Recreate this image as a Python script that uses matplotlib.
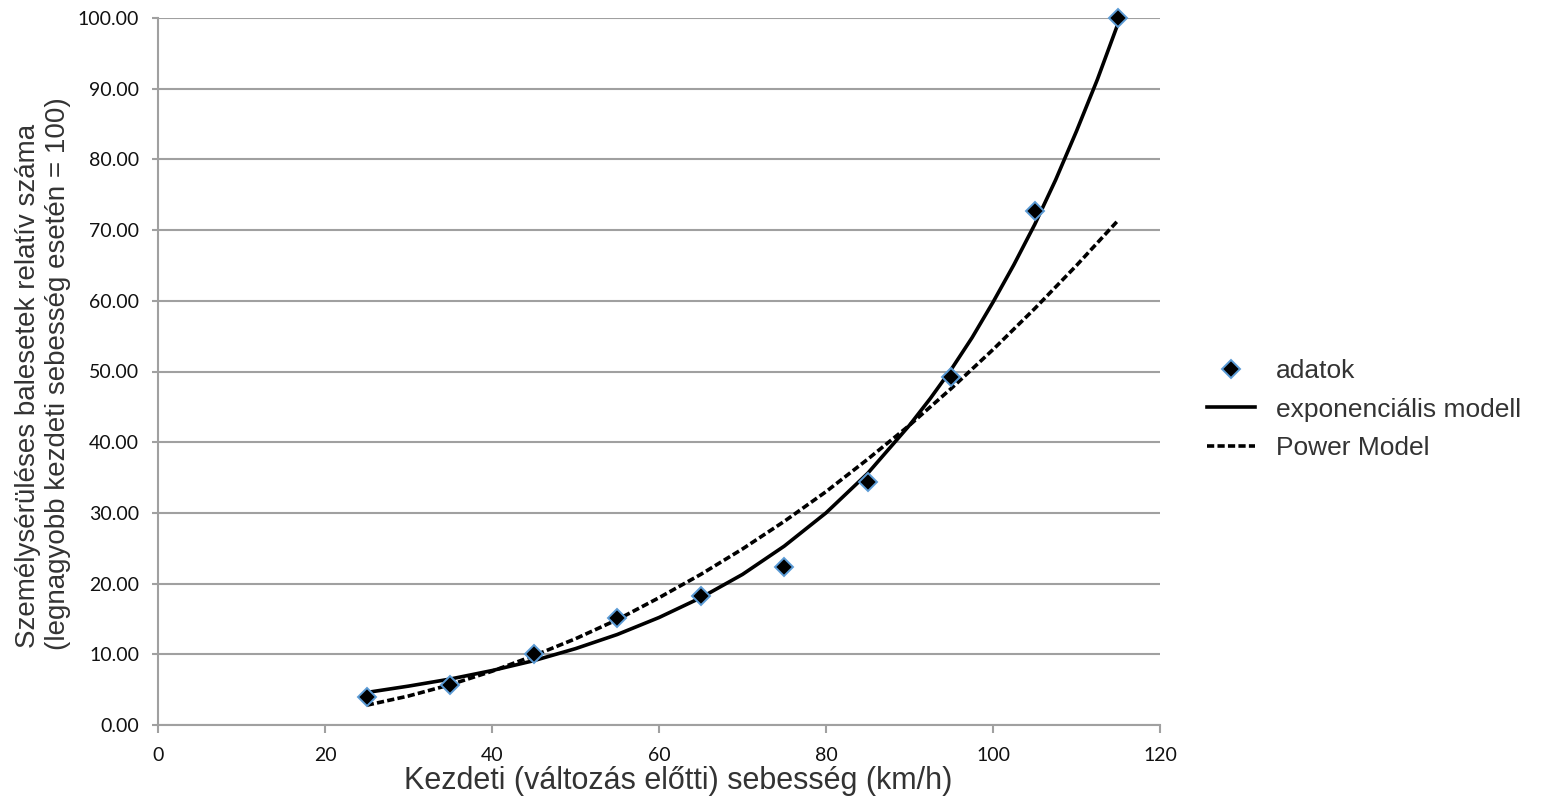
import matplotlib
matplotlib.use("Agg")
import matplotlib.pyplot as plt
from matplotlib.lines import Line2D

# ---- data ----
speed = [25, 35, 45, 55, 65, 75, 85, 95, 105, 115]
crashes = [4.0, 5.7, 10.0, 15.1, 18.2, 22.3, 34.3, 49.2, 72.7, 100.0]

exp_x = [25, 30, 35, 40, 45, 50, 55, 60, 65, 70, 75, 80, 85, 90, 92.5, 95, 97.5,
         100, 102.5, 105, 107.5, 110, 112.5, 115]
exp_model = [4.6, 5.5, 6.5, 7.7, 9.1, 10.8, 12.8, 15.2, 18.0, 21.3, 25.3, 30.0, 35.6,
             42.4, 46.2, 50.3, 54.8, 59.8, 65.1, 70.8, 77.1, 84.0, 91.3, 99.3]
power_x = [25, 30, 35, 40, 45, 50, 55, 60, 65, 70, 75, 80, 85, 90, 95, 100, 105, 110, 115]
power_model = [2.8, 4.1, 5.7, 7.6, 9.8, 12.2, 14.9, 18.0, 21.3, 24.9, 28.8, 33.0, 37.6,
               42.4, 47.6, 53.1, 58.9, 65.0, 71.4]

x_ticks = [0, 20, 40, 60, 80, 100, 120]
y_ticks = [0, 10, 20, 30, 40, 50, 60, 70, 80, 90, 100]

legend_labels = ["adatok", "exponenciális modell", "Power Model"]
x_title = "Kezdeti (változás előtti) sebesség (km/h)"
y_title_1 = "Személysérüléses balesetek relatív száma"
y_title_2 = "(legnagyobb kezdeti sebesség esetén = 100)"

# ---- figure ----
W, H = 1547, 809
fig = plt.figure(figsize=(W / 100, H / 100), dpi=100)
ax = fig.add_axes([158 / W, 1 - 725 / H, (1160 - 158) / W, (725 - 18) / H])

grid_c = "#a0a0a0"
ax.set_xlim(0, 120)
ax.set_ylim(0, 100)
ax.set_yticks(y_ticks)
ax.set_xticks(x_ticks)
ax.set_yticklabels([f"{v:.2f}" for v in y_ticks])
ax.set_xticklabels([str(v) for v in x_ticks])

for s in ["top", "right"]:
    ax.spines[s].set_visible(False)
for s in ["left", "bottom"]:
    ax.spines[s].set_color(grid_c)
    ax.spines[s].set_linewidth(1.5)

ax.yaxis.grid(True, color=grid_c, linewidth=1.5)
ax.set_axisbelow(True)

tick_font = ["Lato", "DejaVu Sans"]
ax.tick_params(axis="y", length=4.5, width=1.5, color=grid_c, pad=9,
               labelsize=14, labelcolor="#111111")
ax.tick_params(axis="x", length=5.5, width=1.5, color=grid_c, pad=10,
               labelsize=14, labelcolor="#111111")
for lab in ax.get_xticklabels() + ax.get_yticklabels():
    lab.set_family(tick_font)

dash = (0, (2.0, 0.9))
# curves
ax.plot(exp_x, exp_model, color="black", linewidth=2.6, solid_capstyle="butt",
        solid_joinstyle="round", zorder=3)
ax.plot(power_x, power_model, color="black", linewidth=2.6, linestyle=dash,
        dash_capstyle="butt", zorder=3)
ax.plot(speed, crashes, linestyle="none", marker="D", markersize=9,
        markerfacecolor="black", markeredgecolor="#5b9bd5", markeredgewidth=1.4,
        zorder=4, clip_on=False)

# axis titles
title_font = ["Liberation Sans", "DejaVu Sans"]
fig.text(678 / W, 1 - 781 / H, x_title, ha="center", va="center",
         fontsize=22, color="#333333", family=title_font)
fig.text(28 / W, 1 - 648 / H, y_title_1, rotation=90, ha="center", va="bottom",
         fontsize=20, color="#333333", family=title_font)
fig.text(58 / W, 1 - 650 / H, y_title_2, rotation=90, ha="center", va="bottom",
         fontsize=20, color="#333333", family=title_font)

# legend
handles = [
    Line2D([], [], linestyle="none", marker="D", markersize=9, markerfacecolor="black",
           markeredgecolor="#5b9bd5", markeredgewidth=1.4),
    Line2D([], [], color="black", linewidth=2.6),
    Line2D([], [], color="black", linewidth=2.6, linestyle=dash),
]
leg = fig.legend(handles, legend_labels, loc="center left",
                 bbox_to_anchor=(1207 / W, 1 - 409.5 / H), frameon=False,
                 prop={"family": title_font, "size": 19}, handlelength=1.8,
                 handletextpad=0.8, labelspacing=0.55, borderpad=0, borderaxespad=0)
for t in leg.get_texts():
    t.set_color("#333333")

fig.savefig("out.png", dpi=100, facecolor="white")
